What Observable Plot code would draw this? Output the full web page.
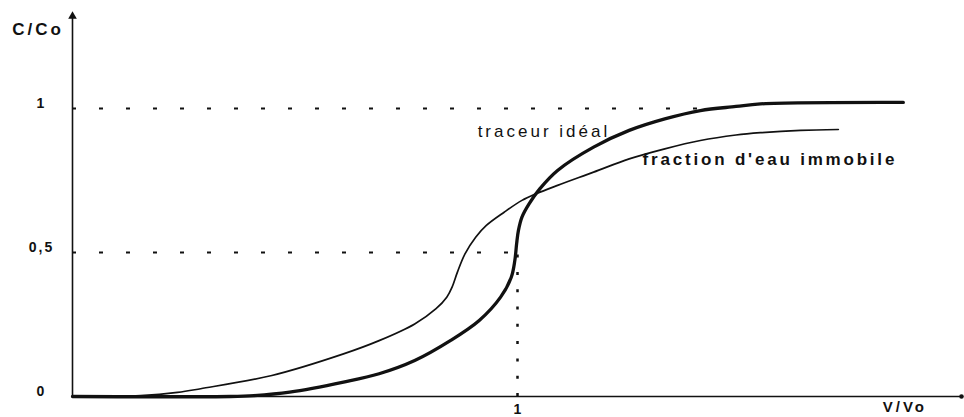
<!DOCTYPE html>
<html>
<head>
<meta charset="utf-8">
<script src="https://cdn.jsdelivr.net/npm/d3@7"></script>
<script src="https://cdn.jsdelivr.net/npm/@observablehq/plot@0.6"></script>
<style>
  html, body { margin: 0; padding: 0; background: #fff; }
  #chart svg { display: block; }
</style>
</head>
<body>
<div id="chart"></div>
<script>
// Breakthrough curves: relative concentration C/Co against relative volume V/Vo
const idealV = [0, 0.355, 0.408, 0.488, 0.609, 0.689, 0.769, 0.849, 0.914, 0.962, 0.986, 0.994, 0.998, 1.002, 1.010, 1.026, 1.050, 1.090, 1.171, 1.251, 1.331, 1.411, 1.491, 1.546, 1.867];
const idealC = [0, 0, 0.003, 0.015, 0.050, 0.079, 0.125, 0.194, 0.264, 0.345, 0.414, 0.472, 0.530, 0.576, 0.623, 0.669, 0.721, 0.785, 0.866, 0.924, 0.964, 0.993, 1.007, 1.016, 1.021];

const immobileV = [0, 0.153, 0.236, 0.288, 0.448, 0.609, 0.689, 0.769, 0.817, 0.841, 0.853, 0.865, 0.882, 0.906, 0.930, 0.970, 1.010, 1.042, 1.090, 1.171, 1.251, 1.331, 1.411, 1.491, 1.546, 1.636, 1.721];
const immobileC = [0, 0.003, 0.014, 0.027, 0.073, 0.148, 0.194, 0.252, 0.305, 0.345, 0.380, 0.432, 0.495, 0.553, 0.594, 0.640, 0.681, 0.704, 0.733, 0.779, 0.825, 0.860, 0.889, 0.908, 0.916, 0.924, 0.927];

const yTicks = [0, 0.5, 1];
const yTickLabels = ["0", "0,5", "1"];
const xTicks = [1];
const xTickLabels = ["1"];

const seriesNames = ["traceur idéal", "fraction d'eau immobile"];

const ideal = idealV.map((v, i) => ({v, c: idealC[i]}));
const immobile = immobileV.map((v, i) => ({v, c: immobileC[i]}));

const ink = "#111";
const font = "'Liberation Sans', Arial, sans-serif";

const chart = Plot.plot({
  width: 964,
  height: 417,
  marginLeft: 72,
  marginRight: 2,
  marginTop: 0,
  marginBottom: 21,
  style: {fontFamily: font, color: ink, background: "#fff"},
  x: {domain: [0, 2]},
  y: {domain: [0, 1.375]},
  marks: [
    // reference levels C/Co = 1 and 0,5, and V/Vo = 1
    Plot.ruleY([1], {x1: 0, x2: 1.43, stroke: ink, strokeWidth: 2, strokeDasharray: "4 23"}),
    Plot.ruleY([0.5], {x1: 0, x2: 1.0, stroke: ink, strokeWidth: 2, strokeDasharray: "4 23"}),
    Plot.ruleX([1], {y1: 0, y2: 0.5, stroke: ink, strokeWidth: 2.5, strokeDasharray: "3 14.3"}),

    // axes lines with their end marks
    Plot.ruleX([0], {y1: 0, y2: 1.32, stroke: ink, strokeWidth: 1.6}),
    Plot.ruleY([0], {x1: 0, x2: 2, stroke: ink, strokeWidth: 1.6}),
    Plot.dot([{v: 0, c: 1.32}], {x: "v", y: "c", symbol: "triangle", r: 3.2, fill: ink}),
    Plot.dot([{v: 2, c: 0}], {x: "v", y: "c", r: 2.3, fill: ink, dx: -1}),

    // tick labels
    Plot.axisY({ticks: yTicks, tickFormat: d => yTickLabels[yTicks.indexOf(d)], tickSize: 0, tickPadding: 32,
      textAnchor: "middle", label: null, fontSize: 14, fontWeight: "bold", dy: -5}),
    Plot.axisX({ticks: xTicks, tickFormat: d => xTickLabels[xTicks.indexOf(d)], tickSize: 0, tickPadding: 8,
      label: null, fontSize: 14, fontWeight: "bold"}),

    // curves
    Plot.line(immobile, {x: "v", y: "c", stroke: ink, strokeWidth: 1.7, curve: "catmull-rom"}),
    Plot.line(ideal, {x: "v", y: "c", stroke: ink, strokeWidth: 3.3, curve: "catmull-rom"}),

    // axis titles
    Plot.text(["C/Co"], {x: 0, y: 1.274, dx: -36, text: d => d, fontSize: 17, fontWeight: "bold"}),
    Plot.text(["V/Vo"], {x: 1.867, y: 0, dy: 11, text: d => d, fontSize: 15, fontWeight: "bold"}),

    // curve labels
    Plot.text([seriesNames[0]], {x: 1.056, y: 0.92, text: d => d, fontSize: 17, fontWeight: 500}),
    Plot.text([seriesNames[1]], {x: 1.564, y: 0.823, text: d => d, fontSize: 17, fontWeight: "bold"})
  ]
});

// slightly widened lettering for the labels
const spacing = {"C/Co": 3, "V/Vo": 3, "0,5": 2, "traceur idéal": 3, "fraction d'eau immobile": 2.8};
d3.select(chart).selectAll("text").each(function () {
  const s = spacing[this.textContent];
  if (s) {
    this.style.letterSpacing = s + "px";
    // keep the centre where it was: letter-spacing also pads after the last glyph
    const dx = +(this.getAttribute("dx") || 0);
    this.setAttribute("dx", dx + s / 2);
  }
});

document.getElementById("chart").appendChild(chart);
</script>
</body>
</html>
